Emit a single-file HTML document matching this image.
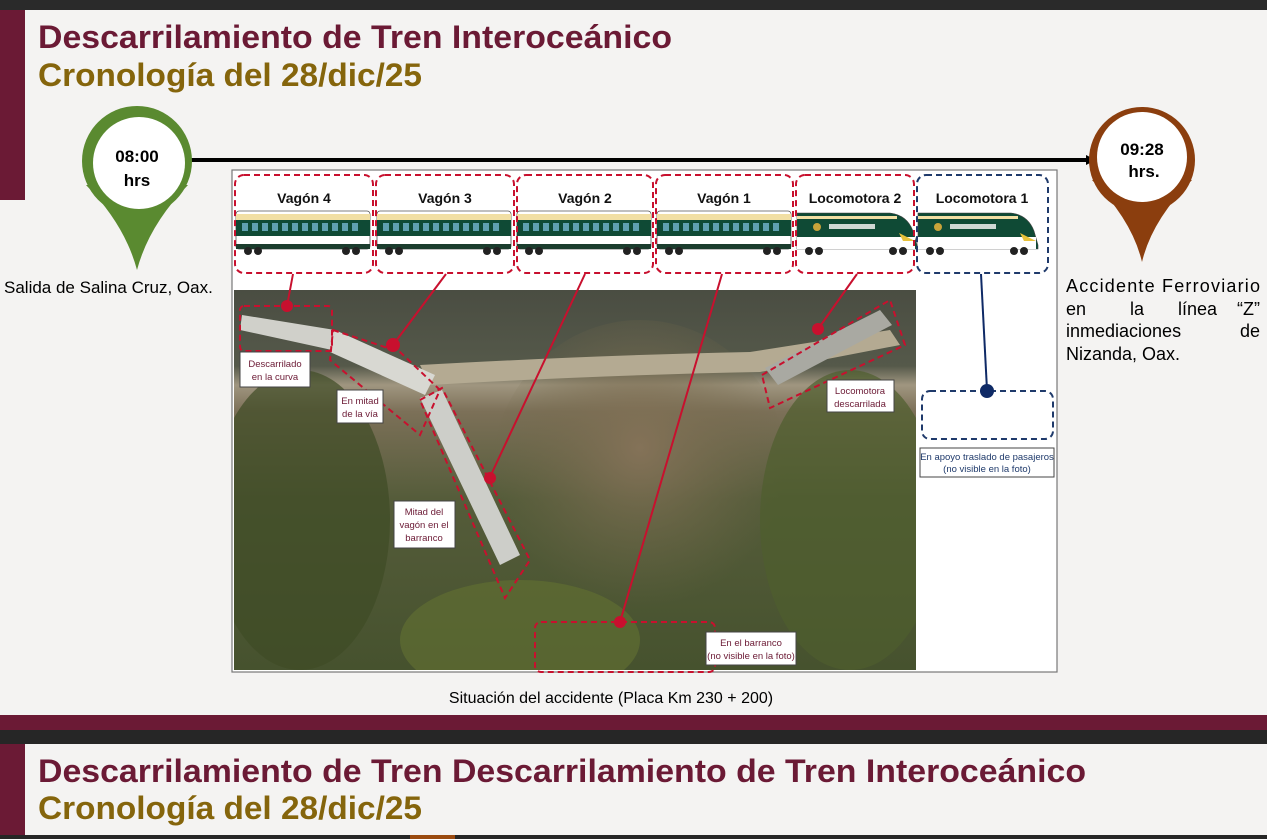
<!DOCTYPE html>
<html><head><meta charset="utf-8"><style>
html,body{margin:0;padding:0;width:1267px;height:839px;overflow:hidden;background:#f4f3f2}
svg{display:block}
.t{font-family:"Liberation Sans",sans-serif}
</style></head><body>
<svg width="1267" height="839" viewBox="0 0 1267 839" xmlns="http://www.w3.org/2000/svg" class="t">
<defs>
<g id="car">
<rect x="2" y="0" width="134" height="38" rx="3" fill="#fff" stroke="#555" stroke-width="0.8"/>
<rect x="2" y="3" width="134" height="6" fill="#f1dfa4"/>
<rect x="2" y="9" width="134" height="16" fill="#0f4a35"/>
<g fill="#5fa0b0"><rect x="8" y="12" width="6" height="8"/><rect x="18" y="12" width="6" height="8"/><rect x="28" y="12" width="6" height="8"/><rect x="38" y="12" width="6" height="8"/><rect x="48" y="12" width="6" height="8"/><rect x="58" y="12" width="6" height="8"/><rect x="68" y="12" width="6" height="8"/><rect x="78" y="12" width="6" height="8"/><rect x="88" y="12" width="6" height="8"/><rect x="98" y="12" width="6" height="8"/><rect x="108" y="12" width="6" height="8"/><rect x="118" y="12" width="6" height="8"/></g>
<rect x="2" y="33" width="134" height="5" fill="#1b3d2e"/>
<g fill="#222"><circle cx="14" cy="40" r="4"/><circle cx="24" cy="40" r="4"/><circle cx="112" cy="40" r="4"/><circle cx="122" cy="40" r="4"/></g>
</g>
<g id="loco">
<path d="M2 2 H95 Q112 4 118 20 L122 34 V38 H2 Z" fill="#0f4a35" stroke="#444" stroke-width="0.6"/>
<rect x="2" y="5" width="100" height="3" fill="#f1dfa4"/>
<path d="M2 26 H120 V38 H2Z" fill="#fff"/>
<path d="M104 22 L120 30 L108 30Z" fill="#e8c23a"/>
<circle cx="22" cy="16" r="4" fill="#c9a43a"/>
<rect x="34" y="13" width="46" height="5" fill="#cfd8d4"/>
<g fill="#222"><circle cx="14" cy="40" r="4"/><circle cx="24" cy="40" r="4"/><circle cx="98" cy="40" r="4"/><circle cx="108" cy="40" r="4"/></g>
</g>
<linearGradient id="ph" x1="0" y1="0" x2="0" y2="1">
<stop offset="0" stop-color="#4a4d42"/><stop offset="0.2" stop-color="#55594a"/><stop offset="0.25" stop-color="#a09680"/><stop offset="0.32" stop-color="#7c7058"/><stop offset="0.55" stop-color="#555c3a"/><stop offset="1" stop-color="#46522e"/>
</linearGradient>
<radialGradient id="rv" cx="0.5" cy="0.4" r="0.5"><stop offset="0" stop-color="#847258"/><stop offset="1" stop-color="#6e6648" stop-opacity="0"/></radialGradient>
<clipPath id="pc"><rect x="234" y="290" width="682" height="380"/></clipPath>
<marker id="ar" markerWidth="10" markerHeight="10" refX="8" refY="5" orient="auto" markerUnits="userSpaceOnUse"><path d="M0 0 L10 5 L0 10Z" fill="#000"/></marker>
</defs>

<rect x="0" y="0" width="1267" height="10" fill="#2a2a2a"/>
<rect x="0" y="10" width="25" height="190" fill="#6b1a35"/>
<text x="38" y="48" font-size="32" font-weight="bold" fill="#6b1a35" textLength="634" lengthAdjust="spacingAndGlyphs">Descarrilamiento de Tren Interoceánico</text>
<text x="38" y="86" font-size="32" font-weight="bold" fill="#85650c" textLength="384" lengthAdjust="spacingAndGlyphs">Cronología del 28/dic/25</text>

<line x1="190" y1="160" x2="1094" y2="160" stroke="#000" stroke-width="4" marker-end="url(#ar)"/>

<path d="M86 185 Q125 225 137 270 Q149 225 188 185 Z" fill="#5a8a30"/>
<circle cx="137" cy="161" r="55" fill="#5a8a30"/>
<circle cx="139" cy="163" r="46" fill="#fff"/>
<text x="137" y="162" font-size="17" font-weight="bold" text-anchor="middle">08:00</text>
<text x="137" y="186" font-size="17" font-weight="bold" text-anchor="middle">hrs</text>

<path d="M1092 180 Q1132 220 1142 262 Q1152 220 1192 180 Z" fill="#8b3e0e"/>
<circle cx="1142" cy="160" r="53" fill="#8b3e0e"/>
<circle cx="1142" cy="157" r="45" fill="#fff"/>
<text x="1142" y="155" font-size="17" font-weight="bold" text-anchor="middle">09:28</text>
<text x="1144" y="177" font-size="17" font-weight="bold" text-anchor="middle">hrs.</text>

<text x="4" y="293" font-size="17">Salida de Salina Cruz, Oax.</text>
<g font-size="18">
<text x="1066" y="292" textLength="194" lengthAdjust="spacing">Accidente Ferroviario</text>
<text x="1066" y="315">en</text><text x="1130" y="315">la</text><text x="1178" y="315">línea</text><text x="1260" y="315" text-anchor="end">“Z”</text>
<text x="1066" y="337">inmediaciones</text><text x="1260" y="337" text-anchor="end">de</text>
<text x="1066" y="360">Nizanda, Oax.</text>
</g>

<rect x="232" y="170" width="825" height="502" fill="#fff" stroke="#777" stroke-width="1.2"/>

<use href="#car" x="234" y="211"/>
<use href="#car" x="375" y="211"/>
<use href="#car" x="515" y="211"/>
<use href="#car" x="655" y="211"/>
<use href="#loco" x="795" y="211"/>
<use href="#loco" x="916" y="211"/>

<g font-size="14" font-weight="bold" text-anchor="middle" fill="#111">
<text x="304" y="203">Vagón 4</text><text x="445" y="203">Vagón 3</text><text x="585" y="203">Vagón 2</text><text x="724" y="203">Vagón 1</text><text x="855" y="203">Locomotora 2</text><text x="982" y="203">Locomotora 1</text>
</g>
<g fill="none" stroke="#c8102e" stroke-width="2" stroke-dasharray="6,4">
<rect x="235" y="175" width="138" height="98" rx="9"/>
<rect x="376" y="175" width="138" height="98" rx="9"/>
<rect x="517" y="175" width="136" height="98" rx="9"/>
<rect x="656" y="175" width="137" height="98" rx="9"/>
<rect x="796" y="175" width="118" height="98" rx="9"/>
</g>
<rect x="917" y="175" width="131" height="98" rx="9" fill="none" stroke="#1f3a6b" stroke-width="2" stroke-dasharray="6,4"/>

<!-- photo -->
<g clip-path="url(#pc)">
<rect x="234" y="290" width="682" height="380" fill="url(#ph)"/>
<ellipse cx="640" cy="480" rx="150" ry="160" fill="url(#rv)"/>
<path d="M420 365 Q600 355 750 352 L890 330 L900 345 L760 372 Q600 375 430 385Z" fill="#b4aa92"/>
<ellipse cx="300" cy="520" rx="90" ry="150" fill="#3e4c25" opacity="0.7"/>
<ellipse cx="850" cy="520" rx="90" ry="150" fill="#4f5e2d" opacity="0.7"/>
<ellipse cx="520" cy="640" rx="120" ry="60" fill="#5f6e32" opacity="0.7"/>
<path d="M242 315 L335 330 L332 350 L240 330Z" fill="#d0d0ca"/>
<path d="M335 330 L435 375 L425 395 L330 352Z" fill="#d8d8d2"/>
<path d="M420 398 L442 390 L520 555 L500 565Z" fill="#cdcec9"/>
<path d="M765 368 L880 310 L892 325 L778 385Z" fill="#a9a9a2"/>
</g>

<g fill="none" stroke="#c8102e" stroke-width="2" stroke-dasharray="6,4">
<rect x="240" y="306" width="92" height="45" rx="4"/>
<path d="M333 330 L400 352 L440 390 L420 435 L330 360Z"/>
<path d="M420 400 L442 388 L530 560 L505 598Z"/>
<path d="M762 375 L890 300 L905 345 L770 408Z"/>
<rect x="535" y="622" width="180" height="50" rx="6"/>
</g>
<rect x="922" y="391" width="131" height="48" rx="8" fill="none" stroke="#1f3a6b" stroke-width="2" stroke-dasharray="6,4"/>

<g stroke="#c8102e" stroke-width="2">
<line x1="293" y1="274" x2="287" y2="306"/>
<line x1="446" y1="274" x2="393" y2="345"/>
<line x1="585" y1="274" x2="490" y2="477"/>
<line x1="722" y1="274" x2="620" y2="622"/>
<line x1="857" y1="274" x2="818" y2="329"/>
</g>
<g fill="#c8102e">
<circle cx="287" cy="306" r="6"/><circle cx="393" cy="345" r="7"/><circle cx="490" cy="478" r="6"/><circle cx="620" cy="622" r="6"/><circle cx="818" cy="329" r="6"/>
</g>
<line x1="981" y1="274" x2="987" y2="390" stroke="#0f2a66" stroke-width="2"/>
<circle cx="987" cy="391" r="7" fill="#0f2a66"/>

<g font-size="9.5" fill="#6b1a35" text-anchor="middle">
<rect x="240" y="352" width="70" height="35" fill="#fff" stroke="#444"/>
<text x="275" y="367">Descarrilado</text><text x="275" y="380">en la curva</text>
<rect x="337" y="390" width="46" height="33" fill="#fff" stroke="#444"/>
<text x="360" y="404">En mitad</text><text x="360" y="417">de la vía</text>
<rect x="394" y="501" width="61" height="47" fill="#fff" stroke="#444"/>
<text x="424" y="515">Mitad del</text><text x="424" y="528">vagón en el</text><text x="424" y="541">barranco</text>
<rect x="827" y="380" width="67" height="32" fill="#fff" stroke="#444"/>
<text x="860" y="394">Locomotora</text><text x="860" y="407">descarrilada</text>
<rect x="706" y="632" width="90" height="33" fill="#fff" stroke="#444"/>
<text x="751" y="646">En el barranco</text><text x="751" y="659">(no visible en la foto)</text>
</g>
<rect x="920" y="448" width="134" height="29" fill="#fff" stroke="#444"/>
<g font-size="9.5" fill="#1f3a6b" text-anchor="middle">
<text x="987" y="460">En apoyo traslado de pasajeros</text><text x="987" y="472">(no visible en la foto)</text>
</g>

<text x="611" y="703" font-size="16" text-anchor="middle">Situación del accidente (Placa Km 230 + 200)</text>

<rect x="0" y="715" width="1267" height="15" fill="#6b1a35"/>
<rect x="0" y="730" width="1267" height="14" fill="#262626"/>
<rect x="0" y="744" width="25" height="91" fill="#6b1a35"/>
<text x="38" y="782" font-size="32" font-weight="bold" fill="#6b1a35" textLength="1048" lengthAdjust="spacingAndGlyphs">Descarrilamiento de Tren Descarrilamiento de Tren Interoceánico</text>
<text x="38" y="819" font-size="32" font-weight="bold" fill="#85650c" textLength="384" lengthAdjust="spacingAndGlyphs">Cronología del 28/dic/25</text>
<rect x="0" y="835" width="1267" height="4" fill="#262626"/>
<rect x="410" y="835" width="45" height="4" fill="#9a4a10"/>
</svg>
</body></html>
